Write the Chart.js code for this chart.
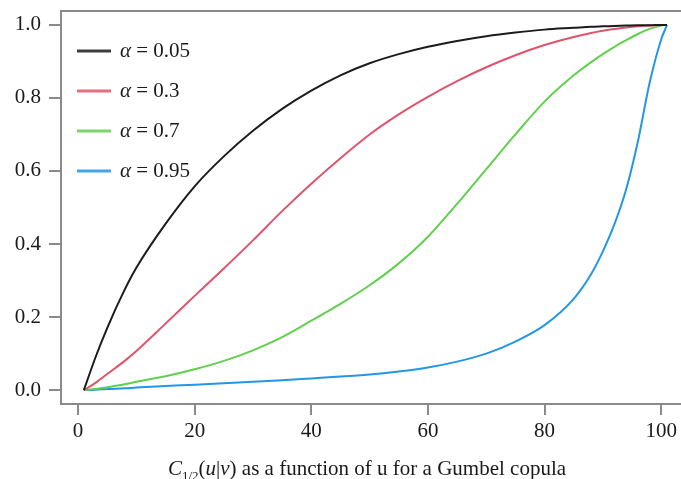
<!DOCTYPE html>
<html><head><meta charset="utf-8">
<script src="https://cdn.jsdelivr.net/npm/chart.js@4/dist/chart.umd.min.js"></script>
<style>html,body{margin:0;padding:0;background:#fff;overflow:hidden}#wrap{width:681px;height:479px;position:relative}</style>
</head><body><div id="wrap"><canvas id="c" width="681" height="479"></canvas></div>
<script>
// ---- data ----
const uValues   = [1, 3, 5, 8, 10, 15, 20, 25, 30, 35, 40, 45, 50, 55, 60, 65, 70, 75, 80, 85, 88, 90, 92, 94, 96, 98, 100, 101];
const alpha005  = [0, 0.09, 0.17, 0.275, 0.335, 0.455, 0.558, 0.64, 0.71, 0.77, 0.82, 0.862, 0.895, 0.92, 0.94, 0.956, 0.969, 0.979, 0.987, 0.992, 0.995, 0.996, 0.997, 0.998, 0.999, 0.999, 1.0, 1.0];
const alpha03   = [0, 0.02, 0.044, 0.08, 0.107, 0.182, 0.258, 0.333, 0.41, 0.49, 0.565, 0.635, 0.70, 0.755, 0.803, 0.846, 0.884, 0.917, 0.945, 0.967, 0.978, 0.984, 0.989, 0.993, 0.996, 0.998, 1.0, 1.0];
const alpha07   = [0, 0.003, 0.008, 0.016, 0.023, 0.038, 0.057, 0.08, 0.109, 0.145, 0.19, 0.236, 0.287, 0.347, 0.42, 0.51, 0.605, 0.70, 0.79, 0.862, 0.898, 0.92, 0.94, 0.958, 0.975, 0.989, 0.998, 1.0];
const alpha095  = [0, 0.001, 0.003, 0.005, 0.007, 0.011, 0.015, 0.019, 0.023, 0.027, 0.032, 0.037, 0.043, 0.051, 0.062, 0.078, 0.10, 0.133, 0.178, 0.25, 0.318, 0.38, 0.455, 0.55, 0.68, 0.84, 0.96, 1.0];
const alphaLabels = ['0.05', '0.3', '0.7', '0.95'];
const xTicks = [0, 20, 40, 60, 80, 100];
const yTicks = [0, 0.2, 0.4, 0.6, 0.8, 1.0];

const seriesValues = [alpha005, alpha03, alpha07, alpha095];
const seriesColors = ['#1c1c1c', '#DF536B', '#61D04F', '#2297E6'];
const AXIS = '#8a8a8a';
const FONT = "'Liberation Serif', 'Times New Roman', serif";

const datasets = seriesValues.map((vals, i) => ({
  label: 'α = ' + alphaLabels[i],
  data: uValues.map((u, k) => ({x: u, y: vals[k]})),
  borderColor: seriesColors[i],
  borderWidth: 2,
  pointRadius: 0,
  fill: false,
  cubicInterpolationMode: 'monotone'
}));

const framePlugin = {
  id: 'frame',
  afterDraw(chart) {
    const ctx = chart.ctx, a = chart.chartArea;
    ctx.save();
    ctx.strokeStyle = AXIS; ctx.lineWidth = 2;
    ctx.beginPath(); ctx.moveTo(a.left - 1, a.top); ctx.lineTo(a.right, a.top); ctx.stroke();
    // legend
    chart.data.datasets.forEach((ds, i) => {
      const y = 51 + 40 * i;
      ctx.strokeStyle = ds.borderColor; ctx.lineWidth = 3; ctx.globalAlpha = 0.85;
      ctx.beginPath(); ctx.moveTo(77, y); ctx.lineTo(111, y); ctx.stroke();
      ctx.globalAlpha = 1;
      ctx.fillStyle = '#1a1a1a'; ctx.textBaseline = 'middle'; ctx.textAlign = 'left';
      ctx.font = 'italic 21px ' + FONT;
      ctx.fillText('α', 120, y);
      const w = ctx.measureText('α').width;
      ctx.font = '21px ' + FONT;
      ctx.fillText(' = ' + alphaLabels[i], 120 + w, y);
    });
    // x-axis caption
    const segs = [
      {t: 'C', f: 'italic 21px ' + FONT, dy: 0},
      {t: '1/2', f: '13px ' + FONT, dy: 5},
      {t: '(', f: '21px ' + FONT, dy: 0},
      {t: 'u', f: 'italic 21px ' + FONT, dy: 0},
      {t: '|', f: '21px ' + FONT, dy: 0},
      {t: 'v', f: 'italic 21px ' + FONT, dy: 0},
      {t: ') as a function of u for a Gumbel copula', f: '21px ' + FONT, dy: 0}
    ];
    let total = 0;
    segs.forEach(s => { ctx.font = s.f; s.w = ctx.measureText(s.t).width; total += s.w; });
    let x = 367 - total / 2;
    const base = 475;
    ctx.textBaseline = 'alphabetic'; ctx.fillStyle = '#1a1a1a';
    segs.forEach(s => { ctx.font = s.f; ctx.fillText(s.t, x, base + s.dy); x += s.w; });
    ctx.restore();
  }
};

new Chart(document.getElementById('c'), {
  type: 'line',
  data: {datasets},
  options: {
    responsive: false,
    animation: false,
    devicePixelRatio: 1,
    layout: {padding: {top: 11, right: 0, left: 0, bottom: 0}},
    plugins: {legend: {display: false}, tooltip: {enabled: false}, title: {display: false}},
    scales: {
      x: {
        type: 'linear', min: -2.92, max: 103.4,
        afterBuildTicks: s => { s.ticks = xTicks.map(v => ({value: v})); },
        afterFit: s => { s.height = 75; s.paddingLeft = 0; s.paddingRight = 0; },
        ticks: {font: {family: FONT, size: 21}, color: '#1a1a1a', padding: 4, maxRotation: 0, autoSkip: false},
        grid: {drawOnChartArea: false, drawTicks: true, tickLength: 11, color: AXIS, lineWidth: 2},
        border: {display: true, color: AXIS, width: 2}
      },
      y: {
        type: 'linear', min: -0.038, max: 1.038,
        afterBuildTicks: s => { s.ticks = yTicks.map(v => ({value: v})); },
        afterFit: s => { s.width = 61; s.paddingTop = 0; s.paddingBottom = 0; },
        ticks: {font: {family: FONT, size: 21}, color: '#1a1a1a', padding: 8, callback: v => Number(v).toFixed(1), autoSkip: false},
        grid: {drawOnChartArea: false, drawTicks: true, tickLength: 12, color: AXIS, lineWidth: 2},
        border: {display: true, color: AXIS, width: 2}
      }
    }
  },
  plugins: [framePlugin]
});
</script>
</body></html>
